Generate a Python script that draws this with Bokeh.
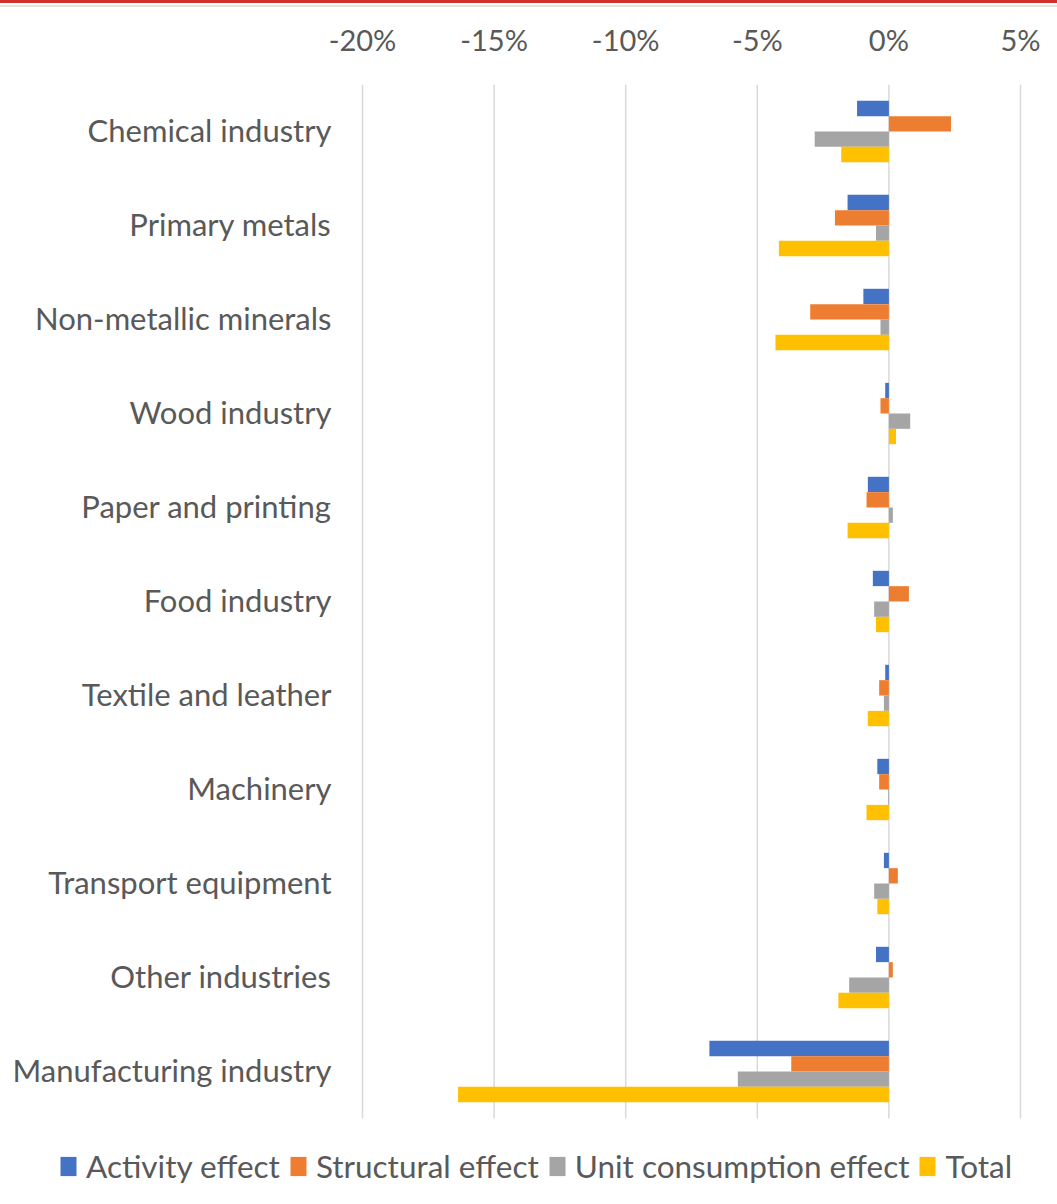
from bokeh.plotting import figure
from bokeh.models import (Range1d, FixedTicker, PrintfTickFormatter,
                          Legend, LegendItem, ColumnDataSource)
from bokeh.core.properties import value
from bokeh.transform import dodge
from bokeh.embed import file_html
from bokeh.resources import INLINE

categories = ["Chemical industry", "Primary metals", "Non-metallic minerals", "Wood industry",
              "Paper and printing", "Food industry", "Textile and leather", "Machinery",
              "Transport equipment", "Other industries", "Manufacturing industry"]
activity = [-1.21, -1.57, -0.97, -0.14, -0.80, -0.61, -0.14, -0.44, -0.19, -0.49, -6.82]
structural = [2.36, -2.05, -2.99, -0.32, -0.85, 0.76, -0.37, -0.37, 0.34, 0.15, -3.71]
unit_consumption = [-2.82, -0.49, -0.32, 0.81, 0.15, -0.56, -0.19, -0.03, -0.56, -1.51, -5.74]
total = [-1.81, -4.18, -4.31, 0.27, -1.57, -0.49, -0.80, -0.85, -0.44, -1.92, -16.37]
series_names = ["Activity effect", "Structural effect", "Unit consumption effect", "Total"]
series_colors = ["#4472C4", "#ED7D31", "#A5A5A5", "#FFC000"]
tick_values = [-20, -15, -10, -5, 0, 5]

FONT = "Lato"
TXT = "#595959"
GRID = "#D9D9D9"

n = len(categories)
ypos = [-i for i in range(n)]
src = ColumnDataSource(dict(cat=categories, y=ypos, a=activity, s=structural,
                            u=unit_consumption, t=total))

W, H = 1057, 1204
TOP = 84
PX_PER_UNIT_X = 658 / 25.0       # 25 percentage points across the drawn axis span
X0_PX = 362                      # pixel of the -20% line
x_start = tick_values[0] - X0_PX / PX_PER_UNIT_X
x_end = x_start + W / PX_PER_UNIT_X
band_px = 94.0
y_end = 0.5
y_start = y_end - (H - TOP) / band_px

p = figure(width=W, height=H, output_backend="svg", toolbar_location=None,
           x_range=Range1d(x_start, x_end), y_range=Range1d(y_start, y_end),
           x_axis_location="above", y_axis_location=None,
           min_border_left=0, min_border_right=0, min_border_top=TOP,
           min_border_bottom=0, outline_line_color=None,
           border_fill_alpha=0, background_fill_color="white")
p.styles = {"background": "linear-gradient(to bottom, #D0312D 0px, #D0312D 3px, #FFFFFF 3px, "
                          "#FFFFFF 5px, #E3E3E3 5px, #E3E3E3 7px, #FFFFFF 7px)"}

# vertical grid lines spanning the category bands
p.segment(x0=tick_values, x1=tick_values, y0=[ypos[-1] - 0.5] * len(tick_values),
          y1=[ypos[0] + 0.5] * len(tick_values), line_color=GRID, line_width=1.5)

bar_h = 0.163
offs = [0.245, 0.0815, -0.0815, -0.245]
cols = ["a", "s", "u", "t"]
rends = []
for c, o, col in zip(cols, offs, series_colors):
    r = p.hbar(y=dodge("y", o), right=c, left=0, height=bar_h,
               source=src, fill_color=col, line_color=None)
    rends.append(r)

# category labels
p.text(x=[tick_values[0] - 31 / PX_PER_UNIT_X] * n, y=ypos, text=categories,
       text_align="right", text_baseline="middle", text_font=value(FONT),
       text_font_size="31px", text_color=TXT, y_offset=-2)

p.xaxis.ticker = FixedTicker(ticks=tick_values)
p.xaxis.formatter = PrintfTickFormatter(format="%d%%")
p.xaxis.axis_line_color = None
p.xaxis.major_tick_line_color = None
p.xaxis.minor_tick_line_color = None
p.xaxis.major_label_text_font = FONT
p.xaxis.major_label_text_font_size = "29px"
p.xaxis.major_label_text_color = TXT
p.xaxis.major_label_standoff = 22

p.xgrid.visible = False
p.ygrid.visible = False

legend = Legend(items=[LegendItem(label=nm, renderers=[r]) for nm, r in zip(series_names, rends)],
                orientation="horizontal", location=(58, 19),
                label_text_font=FONT, label_text_font_size="31.5px", label_text_color=TXT,
                glyph_width=20, glyph_height=24, label_standoff=8, spacing=8,
                padding=0, margin=0, border_line_color=None, background_fill_alpha=0)
p.add_layout(legend, "center")

open("out.html", "w").write(file_html(p, INLINE))
